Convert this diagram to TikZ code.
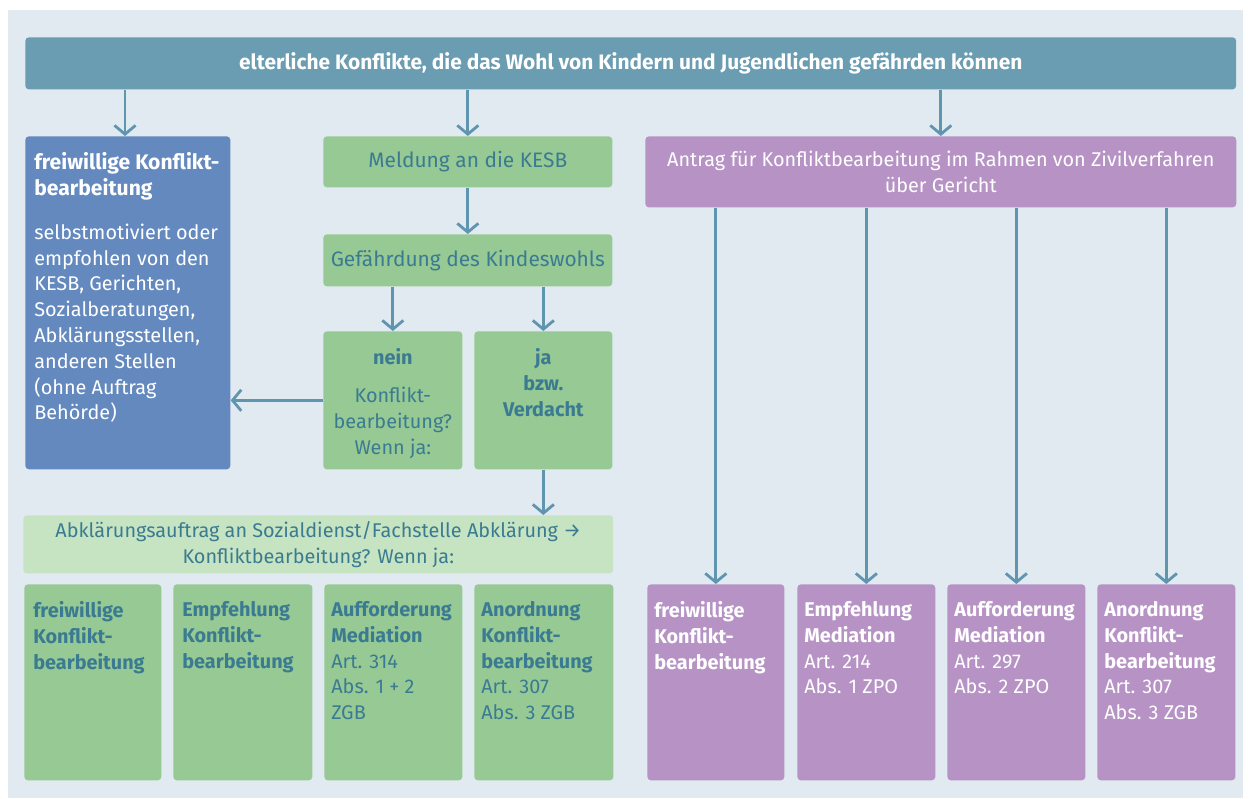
\documentclass[tikz,border=0pt]{standalone}
\usepackage{fontspec}
\setmainfont{Fira Sans}
\usepackage{tikz}
\usetikzlibrary{positioning,calc,arrows.meta}

\definecolor{hintergrund}{HTML}{E1EAF0}
\definecolor{balken}{HTML}{6A9CB2}
\definecolor{pfeil}{HTML}{5F95AF}
\definecolor{freiblau}{HTML}{6389BE}
\definecolor{kesbgruen}{HTML}{96C994}
\definecolor{hellgruen}{HTML}{C6E4C1}
\definecolor{textblau}{HTML}{3B7B92}
\definecolor{gerichtlila}{HTML}{B693C4}

\newcommand{\grund}{\fontsize{11.3}{14.7}\selectfont}
\newcommand{\gross}{\fontsize{11.9}{15}\selectfont}
\newcommand{\zelle}[3]{\parbox[t][#2][t]{#1}{#3}}

\begin{document}
\begin{tikzpicture}[x=0.02cm, y=-0.02cm, >={Straight Barb[length=5pt,width=12pt]},
    every node/.style={font=\grund},
    box/.style={rounded corners=2pt, anchor=north west, inner sep=0pt, align=center},
    cell/.style={box, inner xsep=0.14cm, inner ysep=0.34cm},
    kesb/.style={fill=kesbgruen, text=textblau},
    gericht/.style={fill=gerichtlila, text=white},
    flow/.style={->, draw=pfeil, line width=1.6pt}]
    \fill[white] (0,0) rectangle (1250,798);
    \fill[hintergrund] (8,10) rectangle (1243,798);
    \useasboundingbox (0,0) rectangle (1250,798);

    % oberer Balken
    \node[box, fill=balken, text=white, font=\gross\bfseries, minimum width=24.22cm, minimum height=1.04cm] (konflikt) at (25,37) {elterliche Konflikte, die das Wohl von Kindern und Jugendlichen gefährden können};

    % freiwillig
    \node[cell, fill=freiblau, text=white, inner xsep=0.18cm, inner ysep=0.32cm] (frei) at (25,136) {\zelle{3.74cm}{6.02cm}{\raggedright{\fontsize{12}{15}\selectfont\bfseries freiwillige Konflikt-\\bearbeitung\\[10pt]}selbstmotiviert oder\\empfohlen von den\\KESB, Gerichten,\\Sozialberatungen,\\Abklärungsstellen,\\anderen Stellen\\(ohne Auftrag\\Behörde)}};

    % KESB
    \node[box, kesb, font=\gross, minimum width=5.78cm, minimum height=1.02cm] (meldung) at (323,136) {Meldung an die KESB};
    \node[box, kesb, font=\gross, minimum width=5.78cm, minimum height=1.04cm] (gefaehrdung) at (323,234) {Gefährdung des Kindeswohls};
    \node[box, kesb, inner xsep=0.08cm, inner ysep=0.34cm] (nein) at (323,331) {\zelle{2.62cm}{2.08cm}{\centering\textbf{nein}\\[7pt]Konflikt-\\bearbeitung?\\Wenn ja:}};
    \node[box, kesb, inner xsep=0.08cm, inner ysep=0.34cm] (ja) at (474,331) {\zelle{2.60cm}{2.08cm}{\centering\bfseries ja\\bzw.\\Verdacht}};
    \node[box, fill=hellgruen, text=textblau, minimum width=11.8cm, minimum height=1.16cm] (abklaerung) at (23,515) {Abklärungsauftrag an Sozialdienst/Fachstelle Abklärung →\\Konfliktbearbeitung? Wenn ja:};

    \node[cell, kesb, inner xsep=0.18cm] (kfrei) at (24,584) {\zelle{2.38cm}{3.24cm}{\raggedright\bfseries freiwillige\\Konflikt-\\bearbeitung}};
    \node[cell, kesb, inner xsep=0.18cm] (kempf) at (173,584) {\zelle{2.42cm}{3.24cm}{\raggedright\bfseries Empfehlung\\Konflikt-\\bearbeitung}};
    \node[cell, kesb] (kauff) at (324,584) {\zelle{2.48cm}{3.24cm}{\raggedright\textbf{Aufforderung}\\\textbf{Mediation}\\Art. 314\\Abs. 1 + 2\\ZGB}};
    \node[cell, kesb] (kanord) at (474,584) {\zelle{2.50cm}{3.24cm}{\raggedright\textbf{Anordnung}\\\textbf{Konflikt-}\\\textbf{bearbeitung}\\Art. 307\\Abs. 3 ZGB}};

    % Gericht
    \node[box, gericht, minimum width=11.82cm, minimum height=1.42cm] (antrag) at (645,136) {Antrag für Konfliktbearbeitung im Rahmen von Zivilverfahren\\über Gericht};
    \node[cell, gericht] (gfrei) at (647,584) {\zelle{2.46cm}{3.24cm}{\raggedright\bfseries freiwillige\\Konflikt-\\bearbeitung}};
    \node[cell, gericht] (gempf) at (797,584) {\zelle{2.48cm}{3.24cm}{\raggedright\textbf{Empfehlung}\\\textbf{Mediation}\\Art. 214\\Abs. 1 ZPO}};
    \node[cell, gericht] (gauff) at (947,584) {\zelle{2.48cm}{3.24cm}{\raggedright\textbf{Aufforderung}\\\textbf{Mediation}\\Art. 297\\Abs. 2 ZPO}};
    \node[cell, gericht] (ganord) at (1097,584) {\zelle{2.48cm}{3.24cm}{\raggedright\textbf{Anordnung}\\\textbf{Konflikt-}\\\textbf{bearbeitung}\\Art. 307\\Abs. 3 ZGB}};

    % Pfeile
    \draw[flow] (konflikt.south -| 125,0) -- (frei.north -| 125,0);
    \draw[flow] (konflikt.south -| meldung.north) -- (meldung.north);
    \draw[flow] (konflikt.south -| antrag.north) -- (antrag.north);
    \draw[flow] (meldung) -- (gefaehrdung);
    \draw[flow] (gefaehrdung.south -| nein.north) -- (nein.north);
    \draw[flow] (gefaehrdung.south -| ja.north) -- (ja.north);
    \draw[flow] (nein.west) -- (nein.west -| frei.east);
    \draw[flow] (ja.south) -- (ja.south |- abklaerung.north);
    \foreach \ziel in {gfrei, gempf, gauff, ganord}
        \draw[flow] (antrag.south -| \ziel.north) -- (\ziel.north);
\end{tikzpicture}
\end{document}
